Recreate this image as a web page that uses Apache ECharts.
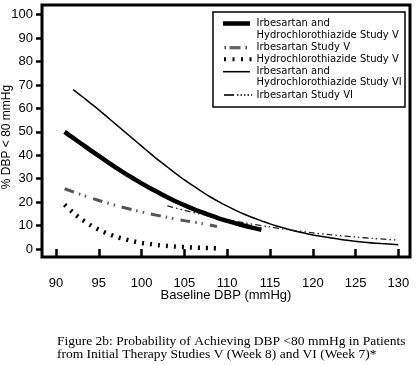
<!DOCTYPE html>
<html><head><meta charset="utf-8">
<script src="https://cdn.jsdelivr.net/npm/echarts@6/dist/echarts.min.js"></script>
<style>html,body{margin:0;padding:0;background:#fff}#c{width:417px;height:365px}</style>
</head><body><div id="c"></div>
<script>
// Series data
const irbHctzV_x = [91,92,93,94,95,96,97,98,99,100,101,102,103,104,105,106,107,108,109,110,111,112,113,114];
const irbHctzV_y = [50,47.4,44.8,42.2,39.7,37.2,34.7,32.4,30.2,28.0,25.9,24.0,22.1,20.3,18.7,17.1,15.7,14.4,13.1,12.0,10.9,9.9,9.0,8.2];

const irbV_x = [91,93,95,97,99,101,103,105,107,108.8];
const irbV_y = [25.7,23.1,20.7,18.6,16.7,15.0,13.5,12.1,10.9,9.6];

const hctzV_x = [91,92,93,94,95,96,97,98,99,100,101,102,103,104,105,106,107,108,109];
const hctzV_y = [18.9,15.5,12.6,10.2,8.2,6.6,5.2,4.2,3.3,2.6,2.1,1.6,1.3,1.0,0.8,0.6,0.5,0.4,0.3];

const irbHctzVI_x = [92,93,94,95,96,97,98,99,100,101,102,103,104,105,106,107,108,109,110,111,112,113,114,115,116,117,118,119,120,122,124,126,128,130];
const irbHctzVI_y = [68.0,65.2,62.3,59.4,56.3,53.2,50.1,47.0,43.9,40.8,37.8,35.0,32.2,29.5,27.0,24.6,22.3,20.2,18.3,16.5,14.8,13.3,12.0,10.7,9.6,8.5,7.6,6.8,6.0,4.8,3.7,2.9,2.3,1.8];

const irbVI_x = [103,105,107,110,112,115,117,120,122,125,127,130];
const irbVI_y = [18.4,16.5,14.8,12.5,11.2,9.4,8.3,6.9,6.1,5.1,4.5,3.75];

const xTicks = [90,95,100,105,110,115,120,125,130];
const yTicks = [0,10,20,30,40,50,60,70,80,90,100];

const names = [
  'Irbesartan and\nHydrochlorothiazide Study V',
  'Irbesartan Study V',
  'Hydrochlorothiazide Study V',
  'Irbesartan and\nHydrochlorothiazide Study VI',
  'Irbesartan Study VI'
];
const legendLines = [
  ['Irbesartan and', 'Hydrochlorothiazide Study V'],
  ['Irbesartan Study V'],
  ['Hydrochlorothiazide Study V'],
  ['Irbesartan and', 'Hydrochlorothiazide Study VI'],
  ['Irbesartan Study VI']
];
const caption = 'Figure 2b: Probability of Achieving DBP <80 mmHg in Patients\nfrom Initial Therapy Studies V (Week 8) and VI (Week 7)*';

const zip = (xs, ys) => xs.map((x, i) => [x, ys[i]]);

const chart = echarts.init(document.getElementById('c'), null, {renderer: 'canvas'});

const sans = 'Liberation Sans';
const legFont = 'DejaVu Sans';

// legend (drawn as graphic)
const LX = 256.5;
const textYs = [[23.3, 35], [47.3], [59], [71.7, 82.7], [95]];
const graphics = [
  {type: 'rect', shape: {x: 213, y: 12, width: 192, height: 95}, style: {fill: '#fff', stroke: '#000', lineWidth: 1.5}, z: 100},
  {type: 'line', shape: {x1: 223, y1: 23.5, x2: 250, y2: 23.5}, style: {stroke: '#000', lineWidth: 4.5}, z: 101},
  {type: 'line', shape: {x1: 224.5, y1: 47.7, x2: 226, y2: 47.7}, style: {stroke: '#444', lineWidth: 3.3}, z: 101},
  {type: 'line', shape: {x1: 229.5, y1: 47.7, x2: 240.5, y2: 47.7}, style: {stroke: '#666', lineWidth: 3.3}, z: 101},
  {type: 'line', shape: {x1: 245.5, y1: 47.7, x2: 247, y2: 47.7}, style: {stroke: '#444', lineWidth: 3.3}, z: 101},
  {type: 'line', shape: {x1: 224, y1: 59.2, x2: 252, y2: 59.2}, style: {stroke: '#000', lineWidth: 4, lineDash: [2, 6.5]}, z: 101},
  {type: 'line', shape: {x1: 223, y1: 71.7, x2: 250, y2: 71.7}, style: {stroke: '#000', lineWidth: 1.5}, z: 101},
  {type: 'line', shape: {x1: 224, y1: 95, x2: 234, y2: 95}, style: {stroke: '#000', lineWidth: 1.6}, z: 101},
  {type: 'line', shape: {x1: 237, y1: 95, x2: 252, y2: 95}, style: {stroke: '#000', lineWidth: 1.4, lineDash: [1.5, 2]}, z: 101}
];
legendLines.forEach((lines, i) => {
  lines.forEach((t, j) => {
    graphics.push({type: 'text', x: LX, y: textYs[i][j], z: 102,
      style: {text: t, fill: '#000', fontSize: 10, fontFamily: legFont, verticalAlign: 'middle', align: 'left'}});
  });
});

const option = {
  backgroundColor: '#fff',
  animation: false,
  title: {
    text: caption, left: 57, top: 334.5, padding: 0,
    textStyle: {fontFamily: 'Liberation Serif', fontSize: 13.5, fontWeight: 'normal', color: '#000', lineHeight: 13}
  },
  grid: {left: 42, right: 7, top: 5, bottom: 108, outerBoundsMode: 'none', containLabel: false,
    show: true, borderColor: '#000', borderWidth: 3, backgroundColor: 'transparent'},
  xAxis: {
    type: 'value', min: 88.36, max: 131.36,
    name: 'Baseline DBP (mmHg)', nameLocation: 'middle', nameGap: 32, nameMoveOverlap: false,
    nameTextStyle: {fontFamily: sans, fontSize: 13, color: '#000'},
    axisLine: {show: false},
    axisTick: {show: true, customValues: xTicks, length: 7, lineStyle: {color: '#000', width: 2.5}},
    axisLabel: {customValues: xTicks, margin: 20, fontFamily: sans, fontSize: 13, color: '#000'},
    splitLine: {show: false}
  },
  yAxis: {
    type: 'value', min: -3.43, max: 104.16,
    name: '% DBP < 80 mmHg', nameLocation: 'middle', nameGap: 29, nameRotate: 90, nameMoveOverlap: false,
    nameTextStyle: {fontFamily: sans, fontSize: 12, color: '#000', padding: [0, 12, 0, 0]},
    axisLine: {show: false},
    axisTick: {show: true, customValues: yTicks, length: 6, lineStyle: {color: '#000', width: 2.5}},
    axisLabel: {customValues: yTicks, margin: 9, fontFamily: sans, fontSize: 13, color: '#000'},
    splitLine: {show: false}
  },
  graphic: graphics,
  series: [
    {name: names[0], type: 'line', data: zip(irbHctzV_x, irbHctzV_y), smooth: 0.3, showSymbol: false,
      lineStyle: {color: '#000', width: 4.5}, z: 5},
    {name: names[1], type: 'line', data: zip(irbV_x, irbV_y), smooth: 0.3, showSymbol: false,
      lineStyle: {color: '#555', width: 3, type: [10, 5, 1.5, 5, 1.5, 7]}, z: 4},
    {name: names[2], type: 'line', data: zip(hctzV_x, hctzV_y), smooth: 0.3, showSymbol: false,
      lineStyle: {color: '#000', width: 4.5, type: [2, 6]}, z: 4},
    {name: names[3], type: 'line', data: zip(irbHctzVI_x, irbHctzVI_y), smooth: 0.3, showSymbol: false,
      lineStyle: {color: '#000', width: 1.5}, z: 3},
    {name: names[4], type: 'line', data: zip(irbVI_x, irbVI_y), smooth: 0.3, showSymbol: false,
      lineStyle: {color: '#222', width: 1.3, type: [6, 3, 1.5, 3, 1.5, 3]}, z: 3}
  ]
};
chart.setOption(option);
</script></body></html>
